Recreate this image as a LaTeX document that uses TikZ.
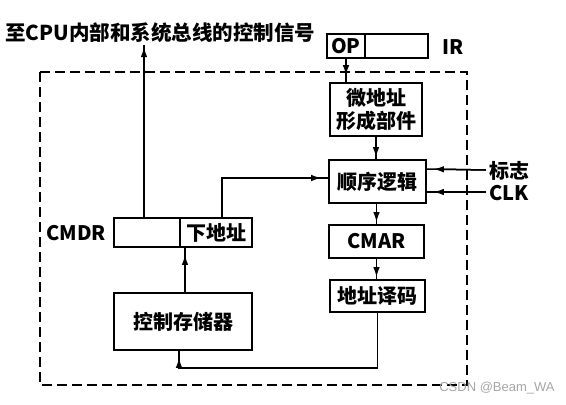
\documentclass[tikz,border=0pt]{standalone}
\usepackage{fontspec}
\setmainfont{Noto Sans CJK SC}
\newfontfamily\wmfont{Liberation Sans}
\usetikzlibrary{arrows.meta}
\tikzset{
    blk/.style = {rectangle, draw=black, line width=1.6pt, inner sep=0pt, align=center, font=\bfseries\fontsize{20}{23}\selectfont},
    lbl/.style = {inner sep=0pt, font=\bfseries\fontsize{20}{23}\selectfont},
    wire/.style = {line width=1.5pt, draw=black},
    edgea/.style = {wire, postaction={draw, -{Latex[length=10pt,width=6.5pt]}, shorten >=2pt}},
    edgeb/.style = {wire, postaction={draw, -{Latex[length=10pt,width=6.5pt]}, shorten >=7pt}},
    frame/.style = {line width=1.6pt, dash pattern=on 10pt off 5pt}
}
\begin{document}
\begin{tikzpicture}[x=1pt,y=-1pt]
\useasboundingbox (0,0) rectangle (566,405);
\draw[frame] (40,72) rectangle (467,385);
%
\node[lbl, anchor=west, font=\bfseries\fontsize{20.5}{23}\selectfont] at (5,33) (title) {至CPU内部和系统总线的控制信号};
\node[blk, minimum width=38pt, minimum height=24pt] at (346,46) (op) {OP};
\node[blk, minimum width=63pt, minimum height=24pt] at (396.5,46) (irf) {};
\node[lbl] at (453,47) (ir) {IR};
\node[blk, minimum width=92pt, minimum height=53pt] at (376,109.5) (micro) {微地址\\形成部件};
\node[blk, minimum width=97pt, minimum height=43pt] at (377.5,181.5) (seq) {顺序逻辑};
\node[lbl] at (509,171) (flag) {标志};
\node[lbl] at (509,193) (clk) {CLK};
\node[blk, minimum width=95pt, minimum height=33pt] at (376.5,241.5) (cmar) {CMAR};
\node[blk, minimum width=95pt, minimum height=32pt] at (377.5,296) (dec) {地址译码};
\node[blk, minimum width=66pt, minimum height=29pt] at (147,232.5) (cmdrl) {};
\node[blk, minimum width=72pt, minimum height=29pt] at (216,232.5) (cmdrn) {下地址};
\node[lbl] at (76,233) (cmdr) {CMDR};
\node[blk, minimum width=138pt, minimum height=57pt] at (183,321.5) (cs) {控制存储器};
\node[font=\wmfont\fontsize{13}{15}\selectfont, text=black!35, inner sep=0pt] at (497,388) (wm) {CSDN @Beam\_WA};
%
\coordinate (top) at (144,45);
\coordinate (ret) at (0,368);
\draw[edgea] (cmdrl.north -| top) -- (top);
\draw[edgeb] (op.south) -- (op.south |- micro.north);
\draw[edgea] (micro.south) -- (micro.south |- seq.north);
\draw[edgeb] (flag.west) ++(-3,-1) -- (seq.east |- 0,169);
\draw[edgeb] (clk.west) ++(-3,-1) -- (seq.east |- 0,192);
\draw[edgeb] (222,218) |- (seq.west |- 0,178);
\draw[edgea] (cmar.north |- seq.south) -- (cmar.north);
\draw[edgea] (cmar.south) -- (cmar.south |- dec.north);
\draw[edgeb] (cs.north -| 185,0) -- (cmdrn.south -| 185,0);
\draw[edgeb] (dec.south) -- (dec.south |- ret) -| (cs.south -| 179,0);
\end{tikzpicture}
\end{document}
